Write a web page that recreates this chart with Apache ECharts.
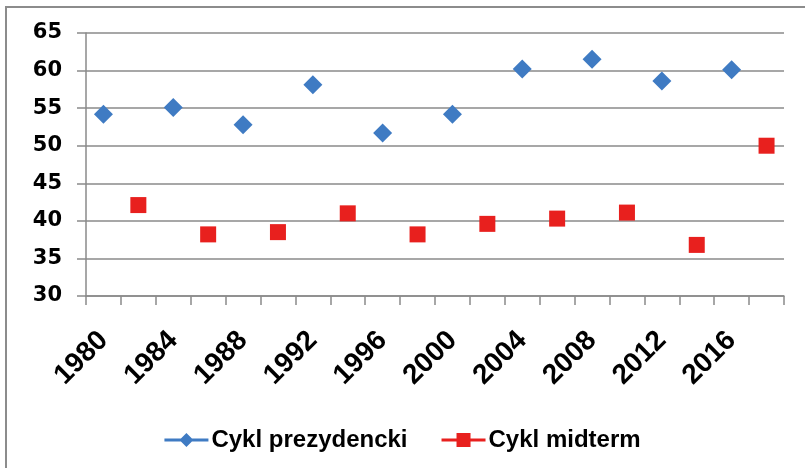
<!DOCTYPE html>
<html><head><meta charset="utf-8">
<script src="https://cdn.jsdelivr.net/npm/echarts@6/dist/echarts.min.js"></script>
<style>html,body{margin:0;padding:0;background:#fff}#c{width:805px;height:468px}</style>
</head><body><div id="c"></div>
<script>
const years = ['1980','1982','1984','1986','1988','1990','1992','1994','1996','1998','2000','2002','2004','2006','2008','2010','2012','2014','2016','2018'];
const presYears = ['1980','1984','1988','1992','1996','2000','2004','2008','2012','2016'];
const presValues = [54.2, 55.1, 52.8, 58.1, 51.7, 54.2, 60.2, 61.5, 58.6, 60.1];
const midYears = ['1982','1986','1990','1994','1998','2002','2006','2010','2014','2018'];
const midValues = [42.1, 38.2, 38.5, 41.0, 38.2, 39.6, 40.3, 41.1, 36.8, 50.0];
const seriesNames = ['Cykl prezydencki', 'Cykl midterm'];

const chart = echarts.init(document.getElementById('c'), null, {renderer:'canvas'});
const gray = '#8a8a8a';
const blue = '#3f7bc3';
const red = '#e8201e';
chart.setOption({
  animation: false,
  backgroundColor: '#fff',
  graphic: [{type:'rect', shape:{x:6,y:7,width:820,height:480}, style:{fill:'none', stroke:'#8c8c8c', lineWidth:2}, silent:true}],
  grid: {left:86, right:21, top:33, bottom:172, containLabel:false},
  legend: {
    top: 423, left: 'center', itemWidth: 44, itemHeight: 14, itemGap: 34,
    textStyle: {fontFamily:'Liberation Sans, Arial, sans-serif', fontWeight:'bold', fontSize:24, color:'#000', padding:[0,0,0,-2]},
    data: [
      {name: seriesNames[0], icon: 'path://M0,5.5 L44,5.5 L44,8.5 L0,8.5 Z M22,0 L29,7 L22,14 L15,7 Z', itemStyle:{color:blue}},
      {name: seriesNames[1], icon: 'path://M0,5.5 L44,5.5 L44,8.5 L0,8.5 Z M15,0 L29,0 L29,14 L15,14 Z', itemStyle:{color:red}}
    ]
  },
  xAxis: {
    type: 'category', data: years, boundaryGap: true,
    axisLine: {show:true, lineStyle:{color:gray, width:1.5}},
    axisTick: {show:true, interval:0, length:9, lineStyle:{color:gray, width:1.5}},
    axisLabel: {interval:1, rotate:45, margin:40, color:'#000', fontFamily:'Liberation Sans, Arial, sans-serif', fontWeight:'bold', fontSize:28},
    splitLine: {show:false}
  },
  yAxis: {
    type: 'value', min: 30, max: 65, interval: 5,
    axisLine: {show:true, lineStyle:{color:gray, width:1.5}},
    axisTick: {show:true, length:9, lineStyle:{color:gray, width:1.5}},
    axisLabel: {margin:24, color:'#000', fontFamily:'DejaVu Sans, sans-serif', fontWeight:'bold', fontSize:21},
    splitLine: {show:true, lineStyle:{color:gray, width:1.5}}
  },
  series: [
    {name: seriesNames[0], type:'scatter', symbol:'diamond', symbolSize:19, itemStyle:{color:blue, opacity:1},
     data: presYears.map((y,i)=>[y, presValues[i]])},
    {name: seriesNames[1], type:'scatter', symbol:'rect', symbolSize:16, itemStyle:{color:red, opacity:1},
     data: midYears.map((y,i)=>[y, midValues[i]])}
  ]
});
</script></body></html>
